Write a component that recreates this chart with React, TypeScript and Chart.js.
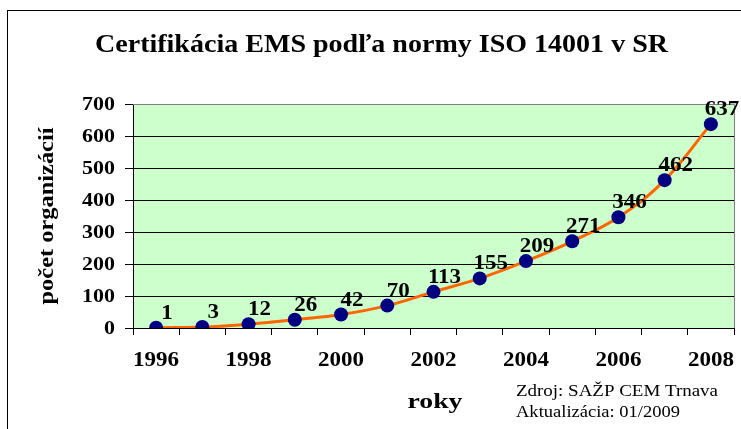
import React, { useEffect, useRef } from "react";
import { Chart, registerables } from "chart.js";

Chart.register(...registerables);

const years = ["1996", "1997", "1998", "1999", "2000", "2001", "2002", "2003", "2004", "2005", "2006", "2007", "2008"];
const counts = [1, 3, 12, 26, 42, 70, 113, 155, 209, 271, 346, 462, 637];
const yTickValues = [0, 100, 200, 300, 400, 500, 600, 700];
const titleText = "Certifikácia EMS podľa normy ISO 14001 v SR";
const yTitleText = "počet organizácií";
const xTitleText = "roky";
const noteLines = ["Zdroj: SAŽP CEM Trnava", "Aktualizácia: 01/2009"];

const SERIF = '"Liberation Serif", "Times New Roman", serif';

function drawText(
  ctx: CanvasRenderingContext2D,
  text: string,
  x: number,
  y: number,
  font: string,
  align: "left" | "center" | "right",
  sx: number,
  baseline: CanvasTextBaseline = "middle",
  targetW?: number
) {
  ctx.save();
  ctx.font = font;
  ctx.textBaseline = baseline;
  ctx.textAlign = "left";
  ctx.fillStyle = "#000";
  const raw = ctx.measureText(text).width;
  const s = targetW ? targetW / raw : sx;
  const w = raw * s;
  const left = align === "left" ? x : align === "center" ? x - w / 2 : x - w;
  ctx.translate(left, y);
  ctx.scale(s, 1);
  ctx.fillText(text, 0, 0);
  ctx.restore();
}

const decorPlugin = {
  id: "decor",
  beforeDraw(chart: any) {
    const { ctx, chartArea } = chart;
    ctx.save();
    ctx.fillStyle = "#fff";
    ctx.fillRect(0, 0, chart.width, chart.height);
    ctx.strokeStyle = "#000";
    ctx.lineWidth = 1;
    ctx.strokeRect(7.5, 10.5, 900, 600);
    ctx.fillStyle = "#CCFFCC";
    ctx.fillRect(chartArea.left, chartArea.top, chartArea.right - chartArea.left, chartArea.bottom - chartArea.top);
    ctx.restore();
  },
  beforeDatasetsDraw(chart: any) {
    const { ctx, chartArea } = chart;
    ctx.save();
    ctx.strokeStyle = "#808080";
    ctx.lineWidth = 1;
    ctx.beginPath();
    ctx.moveTo(chartArea.left, chartArea.top + 0.5);
    ctx.lineTo(chartArea.right + 0.5, chartArea.top + 0.5);
    ctx.lineTo(chartArea.right + 0.5, chartArea.bottom);
    ctx.stroke();
    ctx.restore();
  },
  afterDatasetsDraw(chart: any) {
    const ctx: CanvasRenderingContext2D = chart.ctx;
    const xScale = chart.scales.x;
    const yScale = chart.scales.y;
    // title
    drawText(ctx, titleText, 381.5, 52, `bold 25px ${SERIF}`, "center", 1, "alphabetic", 573);
    // y tick labels
    yTickValues.forEach((v) => {
      drawText(ctx, String(v), 115, yScale.getPixelForValue(v) + 1, `bold 18px ${SERIF}`, "right", 1.22);
    });
    // x tick labels (every second year)
    years.forEach((yr, i) => {
      if (i % 2 === 0) {
        drawText(ctx, yr, xScale.getPixelForValue(i), 361, `bold 20px ${SERIF}`, "center", 1.15);
      }
    });
    // data labels
    const meta = chart.getDatasetMeta(0);
    meta.data.forEach((pt: any, i: number) => {
      drawText(ctx, String(counts[i]), pt.x + 11, pt.y - 9, `bold 20px ${SERIF}`, "center", 1.15, "alphabetic");
    });
    // y title
    ctx.save();
    ctx.translate(48, 216);
    ctx.rotate(-Math.PI / 2);
    drawText(ctx, yTitleText, 0, 0, `bold 21px ${SERIF}`, "center", 1, "middle", 177);
    ctx.restore();
    // x title
    drawText(ctx, xTitleText, 435, 402, `bold 22px ${SERIF}`, "center", 1, "middle", 55);
    // notes
    drawText(ctx, noteLines[0], 516, 392, `16px ${SERIF}`, "left", 1, "middle", 202);
    drawText(ctx, noteLines[1], 516, 413, `16px ${SERIF}`, "left", 1, "middle", 164);
  },
};

export default function App() {
  const ref = useRef<HTMLCanvasElement | null>(null);
  useEffect(() => {
    if (!ref.current) return;
    const chart = new Chart(ref.current, {
      type: "line",
      data: {
        labels: years,
        datasets: [
          {
            data: counts,
            borderColor: "#FF6600",
            borderWidth: 3,
            tension: 0.4,
            pointRadius: 7,
            pointHoverRadius: 7,
            pointBackgroundColor: "#000080",
            pointBorderColor: "#000080",
            pointBorderWidth: 0,
          },
        ],
      },
      options: {
        responsive: false,
        animation: false,
        events: [],
        layout: { padding: { left: 0, top: 104, right: 5, bottom: 61 } },
        plugins: { legend: { display: false }, title: { display: false }, tooltip: { enabled: false } },
        scales: {
          x: {
            type: "category",
            offset: true,
            grid: { offset: true, drawOnChartArea: false, drawTicks: true, tickLength: 7, color: "#000" },
            border: { color: "#000", width: 1 },
            ticks: { display: false },
            afterFit: (s: any) => {
              s.height = 40;
            },
          },
          y: {
            min: 0,
            max: 700,
            ticks: { display: false, stepSize: 100 },
            grid: {
              color: (c: any) => (c.tick && c.tick.value === 700 ? "#808080" : "#000"),
              tickColor: "#000",
              tickLength: 8,
            },
            border: { color: "#000", width: 1 },
            afterFit: (s: any) => {
              s.width = 133;
            },
          },
        },
      },
      plugins: [decorPlugin],
    } as any);
    return () => chart.destroy();
  }, []);
  return (
    <div style={{ position: "absolute", left: 0, top: 0, width: 741, height: 429 }}>
      <canvas ref={ref} width={741} height={429} style={{ display: "block" }} />
    </div>
  );
}
